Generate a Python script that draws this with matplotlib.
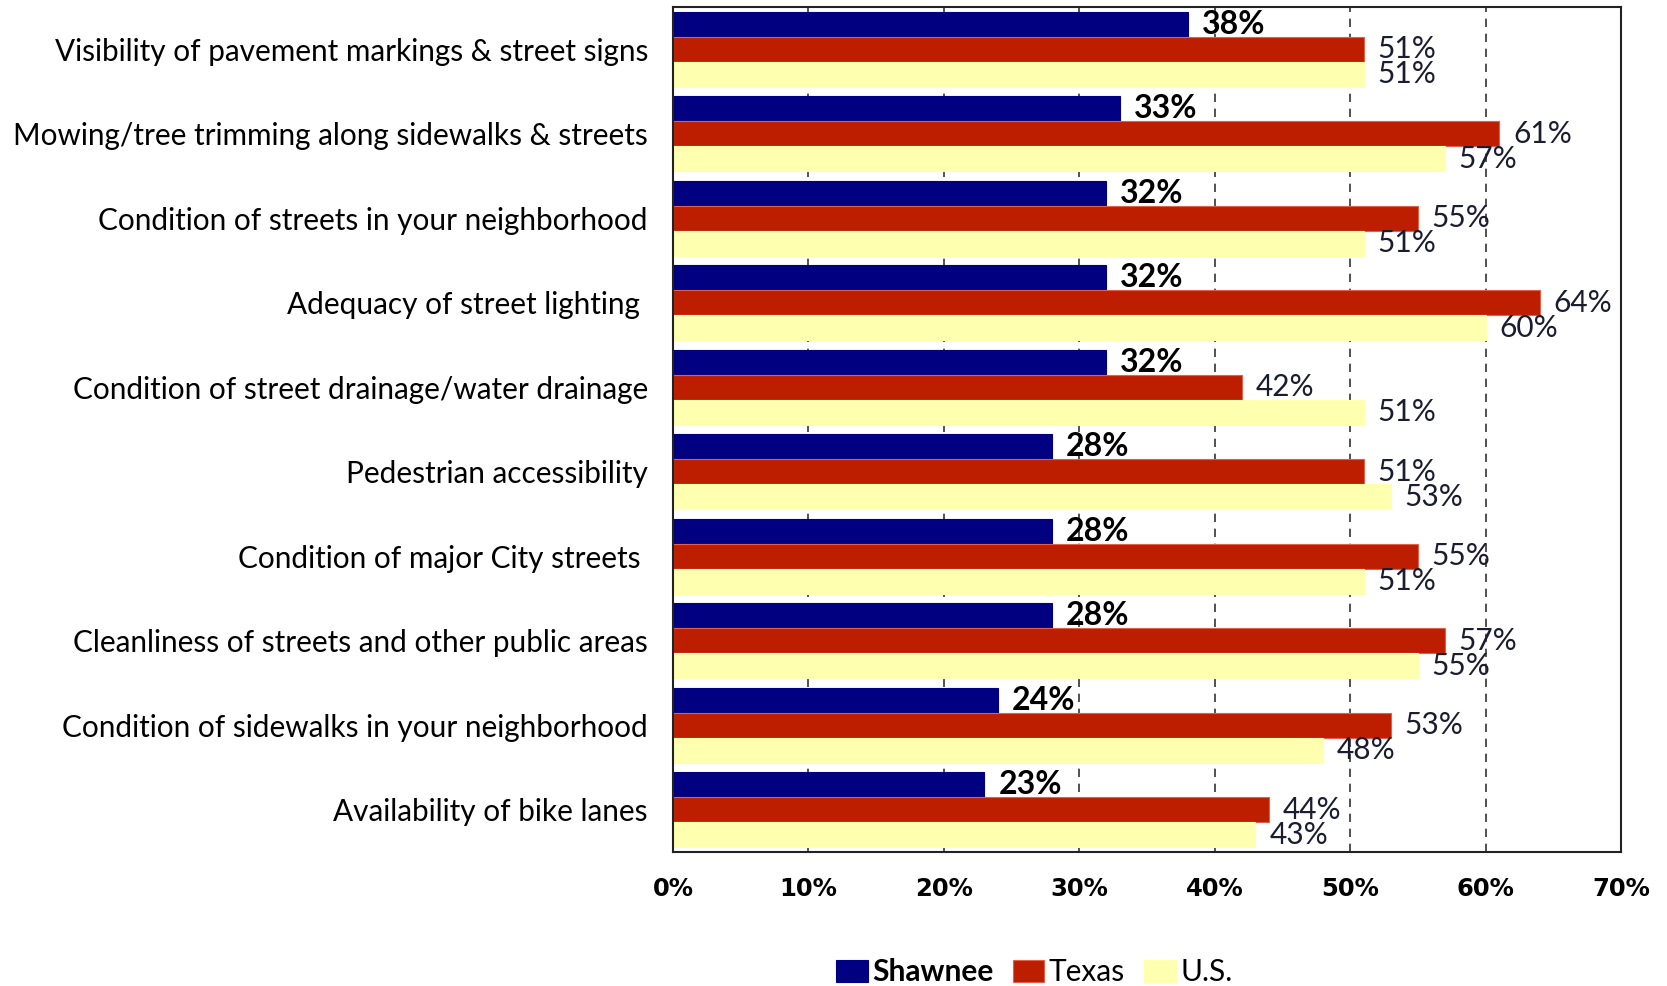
import numpy as np
import matplotlib.pyplot as plt
from matplotlib.ticker import FuncFormatter

# survey items, top to bottom
categories = [
    "Visibility of pavement markings & street signs",
    "Mowing/tree trimming along sidewalks & streets",
    "Condition of streets in your neighborhood",
    "Adequacy of street lighting ",
    "Condition of street drainage/water drainage",
    "Pedestrian accessibility",
    "Condition of major City streets ",
    "Cleanliness of streets and other public areas",
    "Condition of sidewalks in your neighborhood",
    "Availability of bike lanes",
]
shawnee = [38, 33, 32, 32, 32, 28, 28, 28, 24, 23]
texas = [51, 61, 55, 64, 42, 51, 55, 57, 53, 44]
us = [51, 57, 51, 60, 51, 53, 51, 55, 48, 43]

series_names = ["Shawnee", "Texas", "U.S."]
colors = ["#000080", "#BE1E00", "#FFFFB0"]
edges = ["#000080", "#E0604A", "#FFFFB0"]

label_font = "Lato"

fig = plt.figure(figsize=(16.67, 9.86), dpi=100)
ax = fig.add_axes([0.4037, 0.1359, 0.5687, 0.857])

y = np.arange(len(categories))
h = 0.297
offsets = [-h, 0, h]
all_series = [shawnee, texas, us]

for vals, off, col, ec, name in zip(all_series, offsets, colors, edges, series_names):
    bars = ax.barh(y + off, vals, height=h, color=col, edgecolor=ec, linewidth=0.8,
                   label=name, zorder=2)
    bold = name == "Shawnee"
    for b, v in zip(bars, vals):
        ax.annotate(f"{v}%", (b.get_width(), b.get_y() + b.get_height() / 2),
                    xytext=(10, 0), textcoords="offset points",
                    ha="left", va="center", fontsize=23 if bold else 21.5,
                    fontweight="bold" if bold else "normal",
                    color="black" if bold else "#1c1c30",
                    family=label_font, zorder=3)

ax.set_xlim(0, 70)
ax.set_ylim(len(categories) - 0.5, -0.5)
ax.set_xticks(range(0, 71, 10))
ax.xaxis.set_major_formatter(FuncFormatter(lambda v, p: f"{v:.0f}%"))
ax.set_yticks(y)
ax.set_yticklabels(categories, fontsize=21.4, family=label_font)

for t in ax.get_xticklabels():
    t.set_fontfamily("Liberation Sans Narrow")
    t.set_fontweight("bold")
    t.set_fontsize(17.5)

ax.tick_params(axis="both", length=0)
ax.tick_params(axis="y", pad=18)
ax.tick_params(axis="x", pad=18)

ax.xaxis.grid(True, linestyle=(0, (5, 4)), color="#333333", linewidth=1.2)
ax.set_axisbelow(True)
for s in ax.spines.values():
    s.set_linewidth(1.5)
    s.set_color("#222222")

leg = fig.legend(loc="center", bbox_to_anchor=(0.6205, 0.0142), ncol=3, frameon=False,
                 handlelength=1.05, handleheight=0.75, handletextpad=0.15, columnspacing=0.65,
                 prop={"family": label_font, "size": 21.5})
leg.get_texts()[0].set_fontweight("bold")

fig.savefig("out.png", dpi=100)
